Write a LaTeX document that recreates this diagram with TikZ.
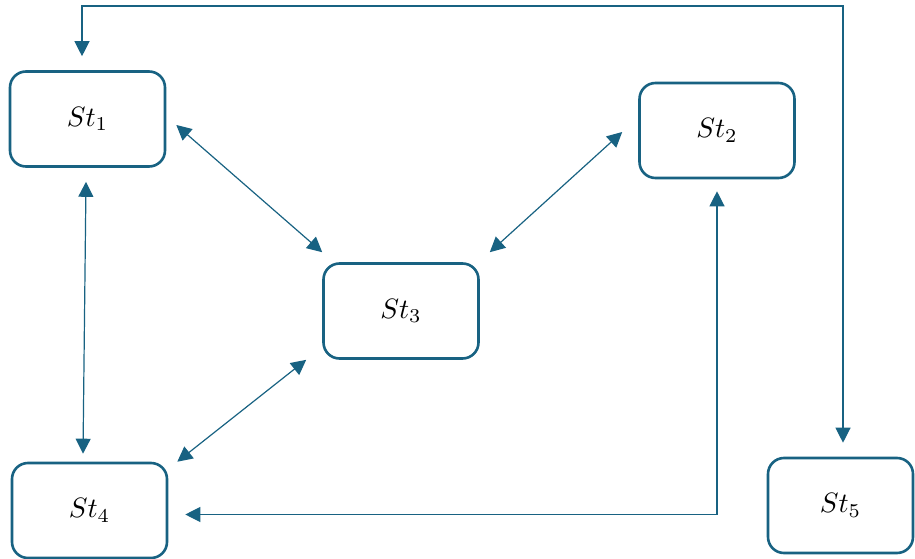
\documentclass[tikz,border=0pt]{standalone}
\usepackage{graphicx}
\usetikzlibrary{arrows.meta,calc}
\definecolor{stblue}{RGB}{24,98,130}
\newcommand{\stlabel}[1]{\scalebox{2.8}{$#1$}}
\begin{document}
\begin{tikzpicture}[x=1pt,y=-1pt,
  stbox/.style={draw=stblue,line width=2.6pt,rounded corners=16pt,fill=white,
    minimum width=155pt,minimum height=95pt,inner sep=0pt},
  link/.style={draw=stblue,line width=1.2pt,
    {Triangle[length=15pt,width=15pt]}-{Triangle[length=15pt,width=15pt]}}]
\useasboundingbox (0,0) rectangle (915,559);
\node[stbox] (St1) at (87.5,119) {\stlabel{St_1}};
\node[stbox] (St2) at (717,130.5) {\stlabel{St_2}};
\node[stbox] (St3) at (401,311) {\stlabel{St_3}};
\node[stbox] (St4) at (89.5,510.5) {\stlabel{St_4}};
\node[stbox,minimum width=145pt] (St5) at (840.5,505.5) {\stlabel{St_5}};
% loop from St5 over the top to St1
\coordinate (t5) at ([shift={(2.5,-14)}]St5.north);
\coordinate (t1) at ([shift={(-5.5,-14)}]St1.north);
\coordinate (top) at (0,6);
\draw[link] (t5) -- (t5 |- top) -| (t1);
% St1 - St4
\draw[link] ([shift={(-1.5,14)}]St1.south) -- ([shift={(-6.5,-8)}]St4.north);
% St1 - St3
\draw[link] ([shift={(10,6)}]St1.east) -- ([shift={(0,-10)}]St3.north west);
% St2 - St3
\draw[link] ([shift={(-16,1.5)}]St2.west) -- ([shift={(10,-10)}]St3.north east);
% St3 - St4
\draw[link] ([shift={(-16,0)}]St3.south west) -- ([shift={(9,0)}]St4.north east);
% St2 - St4
\coordinate (u2) at ([shift={(0,12)}]St2.south);
\coordinate (u4) at ([shift={(17,4)}]St4.east);
\draw[link] (u2) -- (u2 |- u4) -- (u4);
\end{tikzpicture}
\end{document}
